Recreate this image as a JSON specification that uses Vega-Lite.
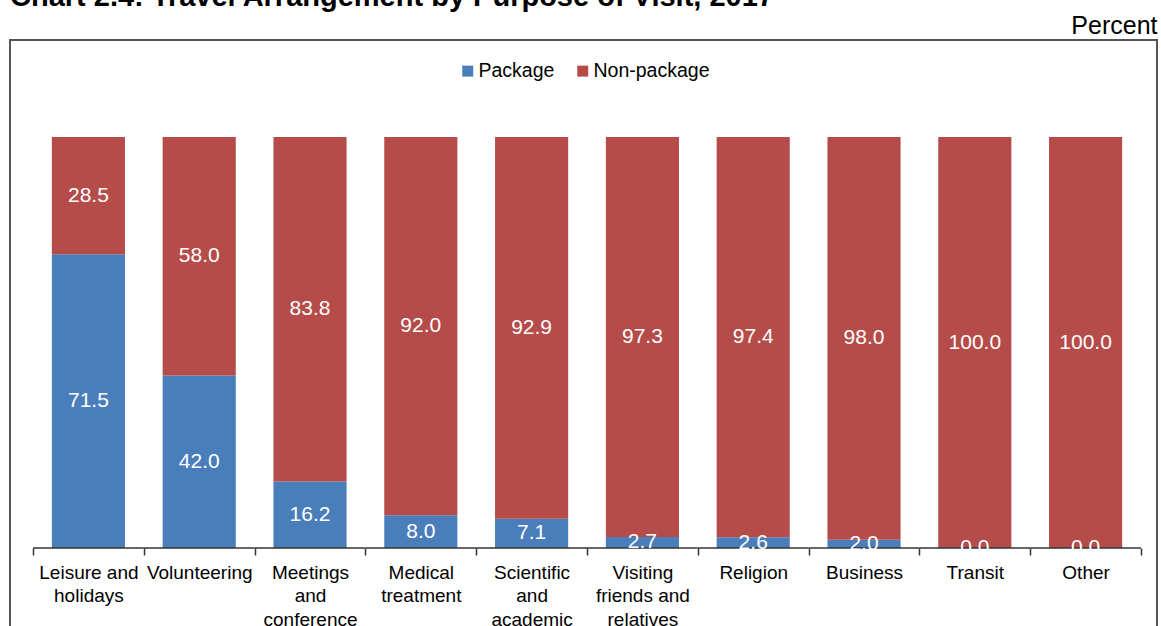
{
  "$schema": "https://vega.github.io/schema/vega-lite/v6.json",
  "width": 1147,
  "height": 600,
  "autosize": {"type": "none"},
  "padding": {"left": 10, "top": 40, "right": 4, "bottom": 0},
  "background": "white",
  "title": {
    "text": "Chart 2.4: Travel Arrangement by Purpose of Visit, 2017",
    "anchor": "start",
    "frame": "group",
    "font": "Liberation Sans",
    "fontSize": 29,
    "fontWeight": "bold",
    "color": "black",
    "baseline": "alphabetic",
    "offset": -22
  },
  "data": {
    "values": [
      {"purpose": "Leisure and holidays", "type": "Package", "value": 71.5},
      {"purpose": "Leisure and holidays", "type": "Non-package", "value": 28.5},
      {"purpose": "Volunteering", "type": "Package", "value": 42.0},
      {"purpose": "Volunteering", "type": "Non-package", "value": 58.0},
      {"purpose": "Meetings and conference", "type": "Package", "value": 16.2},
      {"purpose": "Meetings and conference", "type": "Non-package", "value": 83.8},
      {"purpose": "Medical treatment", "type": "Package", "value": 8.0},
      {"purpose": "Medical treatment", "type": "Non-package", "value": 92.0},
      {"purpose": "Scientific and academic", "type": "Package", "value": 7.1},
      {"purpose": "Scientific and academic", "type": "Non-package", "value": 92.9},
      {"purpose": "Visiting friends and relatives", "type": "Package", "value": 2.7},
      {"purpose": "Visiting friends and relatives", "type": "Non-package", "value": 97.3},
      {"purpose": "Religion", "type": "Package", "value": 2.6},
      {"purpose": "Religion", "type": "Non-package", "value": 97.4},
      {"purpose": "Business", "type": "Package", "value": 2.0},
      {"purpose": "Business", "type": "Non-package", "value": 98.0},
      {"purpose": "Transit", "type": "Package", "value": 0.0},
      {"purpose": "Transit", "type": "Non-package", "value": 100.0},
      {"purpose": "Other", "type": "Package", "value": 0.0},
      {"purpose": "Other", "type": "Non-package", "value": 100.0}
    ]
  },
  "encoding": {
    "x": {
      "field": "purpose",
      "type": "nominal",
      "sort": ["Leisure and holidays", "Volunteering", "Meetings and conference", "Medical treatment", "Scientific and academic", "Visiting friends and relatives", "Religion", "Business", "Transit", "Other"],
      "scale": {"paddingInner": 0, "paddingOuter": 0.176, "align": 0.59},
      "axis": {
        "orient": "bottom",
        "offset": -92,
        "title": null,
        "labelAngle": 0,
        "labelFont": "Liberation Sans",
        "labelFontSize": 19,
        "labelColor": "black",
        "labelLineHeight": 23.5,
        "labelBaseline": "top",
        "labelPadding": 8,
        "labelOverlap": false,
        "labelBound": false,
        "labelLimit": 0,
        "domain": false,
        "tickColor": "#333333",
        "tickWidth": 1.5,
        "tickSize": 7,
        "tickBand": "extent",
        "grid": false,
        "labelExpr": "datum.label == 'Leisure and holidays' ? ['Leisure and', 'holidays'] : datum.label == 'Meetings and conference' ? ['Meetings', 'and', 'conference'] : datum.label == 'Medical treatment' ? ['Medical', 'treatment'] : datum.label == 'Scientific and academic' ? ['Scientific', 'and', 'academic'] : datum.label == 'Visiting friends and relatives' ? ['Visiting', 'friends and', 'relatives'] : datum.label"
      }
    },
    "y": {
      "field": "value",
      "type": "quantitative",
      "stack": "zero",
      "scale": {"domain": [-22.38, 123.6], "nice": false, "zero": false},
      "axis": {
        "orient": "right",
        "title": "Percent",
        "titleAngle": 0,
        "titleAlign": "right",
        "titleBaseline": "alphabetic",
        "titleX": 0,
        "titleY": -7,
        "titleFont": "Liberation Sans",
        "titleFontSize": 25,
        "titleFontWeight": "normal",
        "titleColor": "black",
        "labels": false,
        "ticks": false,
        "domain": false,
        "grid": false
      }
    },
    "order": {"field": "type", "sort": "descending"}
  },
  "layer": [
    {
      "mark": {"type": "bar", "width": {"band": 0.66}},
      "encoding": {
        "color": {
          "field": "type",
          "type": "nominal",
          "scale": {"domain": ["Package", "Non-package"], "range": ["#4A7EBB", "#B54C49"]},
          "legend": {
            "orient": "none",
            "legendX": 448,
            "legendY": 21,
            "direction": "horizontal",
            "title": null,
            "symbolType": "square",
            "symbolSize": 121,
            "symbolStrokeWidth": 0,
            "symbolOpacity": 1,
            "labelFont": "Liberation Sans",
            "labelFontSize": 19.5,
            "labelColor": "black",
            "labelOffset": 1,
            "columnPadding": 18,
            "padding": 0
          }
        }
      }
    },
    {
      "transform": [{"filter": "datum.type == 'Package'"}],
      "mark": {"type": "tick", "orient": "horizontal", "thickness": 1.5, "color": "#333333", "opacity": 1},
      "encoding": {
        "y": {"datum": 0, "type": "quantitative"}
      }
    },
    {
      "mark": {"type": "text", "color": "white", "font": "Liberation Sans", "fontSize": 21, "baseline": "middle"},
      "encoding": {
        "y": {"field": "value", "type": "quantitative", "stack": "zero", "bandPosition": 0.5},
        "text": {"field": "value", "type": "quantitative", "format": ".1f"}
      }
    }
  ],
  "config": {
    "view": {"stroke": "#555555", "strokeWidth": 2},
    "tick": {"bandSize": 1}
  }
}
